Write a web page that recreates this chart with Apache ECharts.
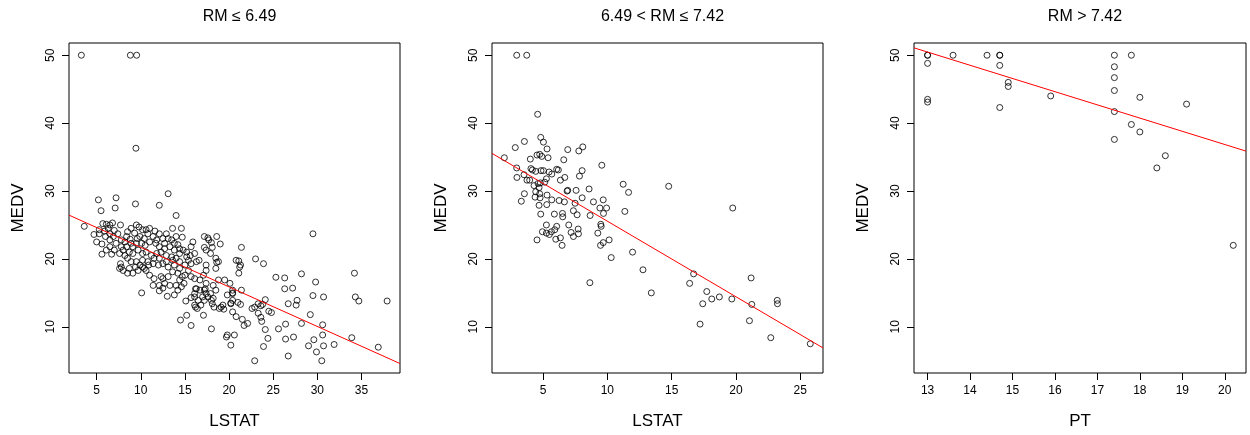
<!DOCTYPE html>
<html>
<head>
<meta charset="utf-8">
<title>MEDV vs LSTAT / PT by RM</title>
<script src="https://cdn.jsdelivr.net/npm/echarts@6/dist/echarts.min.js"></script>
<style>
html, body { margin: 0; padding: 0; background: #fff; }
#chart { width: 1250px; height: 435px; }
</style>
</head>
<body>
<div id="chart"></div>
<script>
// panel titles / axis names
var titles = ['RM \u2264 6.49', '6.49 < RM \u2264 7.42', 'RM > 7.42'];
var xNames = ['LSTAT', 'LSTAT', 'PT'];
var yName = 'MEDV';

// tick labels
var yTicks = [10, 20, 30, 40, 50];
var xTicksLow = [5, 10, 15, 20, 25, 30, 35];
var xTicksMid = [5, 10, 15, 20, 25];
var xTicksHigh = [13, 14, 15, 16, 17, 18, 19, 20];

// axis limits (R style, data range + 4%)
var yLimits = [3.2, 51.8];
var xLimitsLow = [1.87, 39.36];
var xLimitsMid = [1.03, 26.77];
var xLimitsHigh = [12.68, 20.5];

// fitted lines: [intercept, slope]
var fitLow = [27.54, -0.583];
var fitMid = [36.69, -1.113];
var fitHigh = [75.75, -1.945];

// RM <= 6.49 : [LSTAT, MEDV]
var lowRm = [
	[3.27,50],[8.82,50],[9.53,50],[9.45,36.3],
	[5.2,28.7],[7.2,29.0],[13.1,29.6],[9.4,28.1],[12.1,27.9],[5.5,27.1],[7.1,27.5],[14.0,26.4],[3.6,24.8],
	[4.7,23.6],[5.0,22.5],[5.6,22.2],[5.6,20.7],[6.7,20.7],
	[5.7,25.2],[6.1,25.1],[6.5,25.0],[6.8,25.3],[6.3,24.5],[5.9,24.1],[5.3,24.3],[7.0,24.2],[7.7,25.0],
	[6.5,23.7],[6.9,23.3],[7.4,23.7],[7.8,22.8],[8.4,23.3],[8.5,24.0],[8.9,24.5],[9.5,25.0],[9.8,24.7],
	[9.3,23.8],[9.9,23.3],[10.2,24.3],[10.6,24.3],[11.0,24.5],[11.6,24.1],[12.1,23.7],[12.5,23.0],
	[12.9,23.7],[13.5,22.8],[13.6,24.5],[14.6,24.5],[14.7,23.2],[14.0,23.3],[14.2,22.1],[13.8,21.3],
	[13.3,21.8],[12.7,21.5],[12.1,21.8],[11.7,22.3],[11.0,22.5],[10.5,22.0],[10.1,22.3],[9.5,22.3],
	[8.9,22.3],[8.4,21.8],[8.0,21.3],[7.6,20.8],[8.7,21.0],[9.1,20.8],[9.7,21.3],[10.2,20.8],[10.6,21.0],
	[11.2,20.5],[11.8,20.8],[12.3,21.0],[12.9,20.5],[13.5,20.3],[14.0,20.1],[14.4,20.8],[14.8,21.3],
	[15.2,20.3],[15.9,22.5],[15.7,21.8],[16.1,20.8],[16.6,19.8],[16.3,19.6],[15.7,19.3],[15.4,19.8],
	[17.2,23.3],[18.6,23.3],[19.0,22.2],[17.7,22.8],[17.4,21.3],[17.9,20.8],[18.5,20.1],[18.8,19.6],
	[17.4,19.1],[17.4,18.3],[18.5,18.6],[18.8,16.9],[18.2,16.1],[17.4,16.4],[17.3,15.6],[16.7,15.4],
	[16.3,15.6],[16.1,14.4],[16.5,13.9],[16.8,13.2],[17.2,13.9],[17.6,14.4],[17.9,14.9],[18.2,14.2],
	[18.5,15.4],[19.1,12.9],[19.3,13.2],[19.5,16.9],[20.1,16.4],[20.4,14.9],[20.8,19.8],[21.2,18.8],
	[21.1,17.9],[20.4,13.9],[20.4,12.2],[20.8,11.5],[19.7,8.5],[19.8,8.8],[20.2,7.3],[18.0,9.7],
	[17.1,11.7],[16.2,12.9],[15.7,10.2],[15.2,11.7],[14.5,11.0],[13.0,14.5],[12.1,15.3],[11.4,16.1],
	[12.1,16.1],[12.7,16.4],[13.1,17.4],[12.5,17.1],[12.3,17.4],[11.5,17.1],[11.0,17.6],[10.6,18.3],
	[10.1,15.0],[10.4,18.6],[9.9,19.1],[9.4,18.8],[8.7,18.6],[8.0,18.3],[7.8,18.8],[7.7,19.3],[8.9,19.6],
	[9.5,19.6],[10.2,19.8],[10.8,19.6],[11.4,19.3],[12.0,19.1],[12.5,19.3],[13.1,18.8],[13.8,19.1],
	[14.4,18.6],[14.2,17.9],[14.4,16.9],[14.7,17.4],[15.0,17.6],[14.9,16.4],[14.6,15.9],
	[15.1,13.8],[15.7,14.3],[16.1,14.9],[16.2,15.6],[16.1,13.2],[16.4,12.7],[17.0,14.4],[17.2,15.4],
	[17.4,14.9],[18.0,13.9],[18.1,13.4],[18.3,12.9],[18.9,12.7],[19.4,12.6],[19.8,14.7],[20.2,13.4],
	[20.4,15.4],[17.6,23.1],[18.0,22.4],[17.2,21.7],[18.1,21.7],[18.6,19.5],
	[5.3,23.7],[6.0,23.3],[6.5,22.8],[7.2,22.3],[7.8,21.8],[8.2,22.5],[8.8,22.9],[9.1,21.8],[9.6,23.0],
	[10.4,23.0],[10.8,23.7],[11.4,23.3],[11.8,22.8],[12.7,22.3],[13.1,23.0],[13.8,22.3],[14.4,21.5],
	[15.2,21.0],[15.6,20.5],[13.6,19.8],[12.9,19.6],[12.1,20.1],[11.5,20.1],[10.9,19.1],[10.2,18.8],
	[9.7,18.3],[9.1,17.9],[8.5,17.9],[7.6,18.6],[8.5,20.1],[8.2,20.5],[7.0,21.3],[6.1,21.3],[6.5,21.8],
	[14.4,19.6],[15.0,19.1],[15.4,18.3],[15.7,17.4],[16.1,17.1],[16.7,16.9],[17.1,17.6],[13.6,18.1],
	[13.3,16.1],[14.0,16.1],[14.2,15.4],[13.8,14.7],[12.5,15.7],
	[29.5,23.7],[21.4,21.7],[21.1,19.7],[21.3,19.1],[23.0,20.0],[23.9,19.3],[25.3,17.3],[26.3,17.2],
	[28.2,17.8],[26.3,15.6],[27.2,15.7],[29.8,16.6],[34.2,17.9],[29.5,14.6],[30.7,14.4],[34.3,14.4],
	[34.7,13.8],[37.9,13.8],[21.4,15.4],[20.4,15.0],[20.2,13.5],[21.0,13.6],[21.3,13.3],[21.5,11.1],
	[21.7,10.2],[22.1,10.5],[20.6,8.8],[22.6,12.7],[22.9,12.9],[23.3,13.4],[23.6,13.1],[23.8,13.3],
	[24.1,14.0],[23.3,12.0],[23.6,11.4],[23.7,10.8],[24.5,12.3],[24.8,12.1],[24.1,9.6],[24.4,8.3],
	[23.9,7.1],[22.9,5.0],[25.6,9.7],[26.4,10.4],[27.3,8.5],[26.4,8.2],[26.7,5.7],[26.7,13.4],
	[27.7,13.9],[27.6,13.2],[29.2,11.8],[28.2,10.5],[30.6,10.3],[30.6,8.8],[29.6,8.1],[29.0,7.2],
	[30.7,7.2],[29.9,6.3],[31.9,7.4],[30.5,5.0],[33.9,8.4],[36.9,7.0]
];

// 6.49 < RM <= 7.42 : [LSTAT, MEDV]
var midRm = [
	[2.95,50],[3.73,50],[4.58,41.3],[1.99,34.9],[2.84,36.4],[3.55,37.3],[4.82,37.9],[5.03,37.2],
	[5.31,36.2],[6.92,36.1],[7.78,35.9],[8.09,36.5],[6.61,34.6],[4.01,34.7],[4.53,35.3],[4.74,35.4],
	[4.90,35.1],[5.39,34.9],[2.95,33.4],[4.06,33.3],[4.17,33.1],[4.43,32.9],[4.84,33.0],[5.03,33.0],
	[5.47,32.8],[5.68,32.5],[6.06,33.2],[6.19,33.1],[6.35,31.6],[6.69,32.0],[7.83,32.2],[8.04,33.0],
	[9.57,33.8],[2.97,32.0],[3.52,32.4],[3.75,31.6],[3.96,31.6],[4.30,30.8],[4.61,31.1],[4.79,31.2],
	[5.13,31.3],[5.26,31.8],[4.69,30.5],[4.43,29.9],[4.74,29.6],[4.38,29.1],[4.77,29.0],[3.55,29.6],
	[3.31,28.5],[4.69,27.9],[5.31,29.4],[5.29,28.0],[5.68,28.7],[6.25,28.6],[6.66,28.4],[6.87,30.0],
	[6.92,30.1],[7.57,30.1],[7.49,28.2],[8.04,29.0],[8.58,30.3],[8.92,28.4],[9.42,27.5],[9.68,28.7],
	[9.94,27.5],[9.70,26.7],[11.23,31.0],[11.65,29.8],[11.36,27.0],[8.66,26.4],[7.36,27.1],[7.65,26.5],
	[6.51,26.7],[6.53,26.2],[5.88,26.6],[4.82,26.6],[5.26,25.0],[4.95,24.0],[5.26,23.8],[5.49,23.6],
	[5.65,24.0],[5.91,24.3],[6.06,24.8],[5.99,22.9],[6.35,23.1],[6.48,22.0],[4.53,22.8],[7.00,25.0],
	[7.18,23.9],[7.36,23.3],[7.73,24.4],[7.75,23.7],[9.26,23.8],[9.49,25.1],[9.52,24.8],[9.68,22.4],
	[9.47,22.0],[10.14,22.8],[10.30,20.2],[11.96,21.0],[12.77,18.4],[8.64,16.5],[13.42,15.0],[14.77,30.7],
	[19.75,27.5],[16.71,17.8],[16.40,16.4],[17.73,15.2],[18.12,14.1],[18.71,14.4],[17.42,13.4],
	[19.68,14.1],[17.21,10.4],[21.18,17.2],[21.23,13.3],[21.05,10.9],[23.21,13.9],[23.23,13.4],
	[22.71,8.4],[25.78,7.5]
];

// RM > 7.42 : [PT, MEDV]
var highRm = [
	[13.0,50],[13.0,50],[13.0,48.8],[13.0,43.5],[13.0,43.1],[13.6,50],[14.4,50],[14.7,50],[14.7,50],
	[14.7,48.5],[14.7,42.3],[14.9,46.0],[14.9,45.4],[15.9,44.0],[17.4,50],[17.4,48.3],[17.4,46.7],
	[17.4,44.8],[17.4,41.7],[17.4,37.6],[17.8,50],[17.8,39.8],[18.0,43.8],[18.0,38.7],[18.4,33.4],
	[18.6,35.2],[19.1,42.8],[20.2,22.0]
];

var font = 'Liberation Sans, Arial, Helvetica, sans-serif';
var grids = [
	{ left: 69, top: 43, width: 331, height: 330 },
	{ left: 492, top: 43, width: 331, height: 330 },
	{ left: 914, top: 43, width: 332, height: 330 }
];

function fitLine(fit, lim) {
	return [
		[lim[0], fit[0] + fit[1] * lim[0]],
		[lim[1], fit[0] + fit[1] * lim[1]]
	];
}

function makeX(i, lim, ticks) {
	return {
		type: 'value', gridIndex: i, min: lim[0], max: lim[1],
		name: xNames[i], nameLocation: 'middle', nameGap: 40,
		nameTextStyle: { fontSize: 17, color: '#000', fontFamily: font },
		axisLine: { show: false },
		splitLine: { show: false },
		axisTick: { show: true, inside: false, length: 7, customValues: ticks, lineStyle: { color: '#000' } },
		axisLabel: { customValues: ticks, fontSize: 12, color: '#000', fontFamily: font, margin: 12 }
	};
}

function makeY(i) {
	return {
		type: 'value', gridIndex: i, min: yLimits[0], max: yLimits[1],
		name: yName, nameLocation: 'middle', nameGap: 42, nameRotate: 90,
		nameTextStyle: { fontSize: 17, color: '#000', fontFamily: font },
		axisLine: { show: false },
		splitLine: { show: false },
		axisTick: { show: true, inside: false, length: 7, customValues: yTicks, lineStyle: { color: '#000' } },
		axisLabel: { customValues: yTicks, rotate: 90, fontSize: 12, color: '#000', fontFamily: font, margin: 12 }
	};
}

function scatter(i, data) {
	return {
		type: 'scatter', xAxisIndex: i, yAxisIndex: i, data: data,
		symbol: 'circle', symbolSize: 6, silent: true,
		itemStyle: { color: 'rgba(0,0,0,0)', borderColor: '#000', borderWidth: 1 }
	};
}

function line(i, fit, lim) {
	return {
		type: 'line', xAxisIndex: i, yAxisIndex: i, data: fitLine(fit, lim),
		showSymbol: false, silent: true, z: 5,
		lineStyle: { color: '#ff0000', width: 1 }
	};
}

var chart = echarts.init(document.getElementById('chart'), null, { renderer: 'canvas' });
var option = {
	animation: false,
	backgroundColor: '#fff',
	title: grids.map(function(g, i) {
		return {
			text: titles[i], left: g.left + g.width / 2, top: 4, textAlign: 'center',
			textStyle: { fontSize: 16, fontWeight: 'normal', color: '#000', fontFamily: font }
		};
	}),
	grid: grids.map(function(g) {
		return { left: g.left, top: g.top, width: g.width, height: g.height, show: true, borderColor: '#000', borderWidth: 1, backgroundColor: 'transparent' };
	}),
	xAxis: [
		makeX(0, xLimitsLow, xTicksLow),
		makeX(1, xLimitsMid, xTicksMid),
		makeX(2, xLimitsHigh, xTicksHigh)
	],
	yAxis: [makeY(0), makeY(1), makeY(2)],
	series: [
		scatter(0, lowRm), line(0, fitLow, xLimitsLow),
		scatter(1, midRm), line(1, fitMid, xLimitsMid),
		scatter(2, highRm), line(2, fitHigh, xLimitsHigh)
	]
};
chart.setOption(option);
</script>
</body>
</html>
